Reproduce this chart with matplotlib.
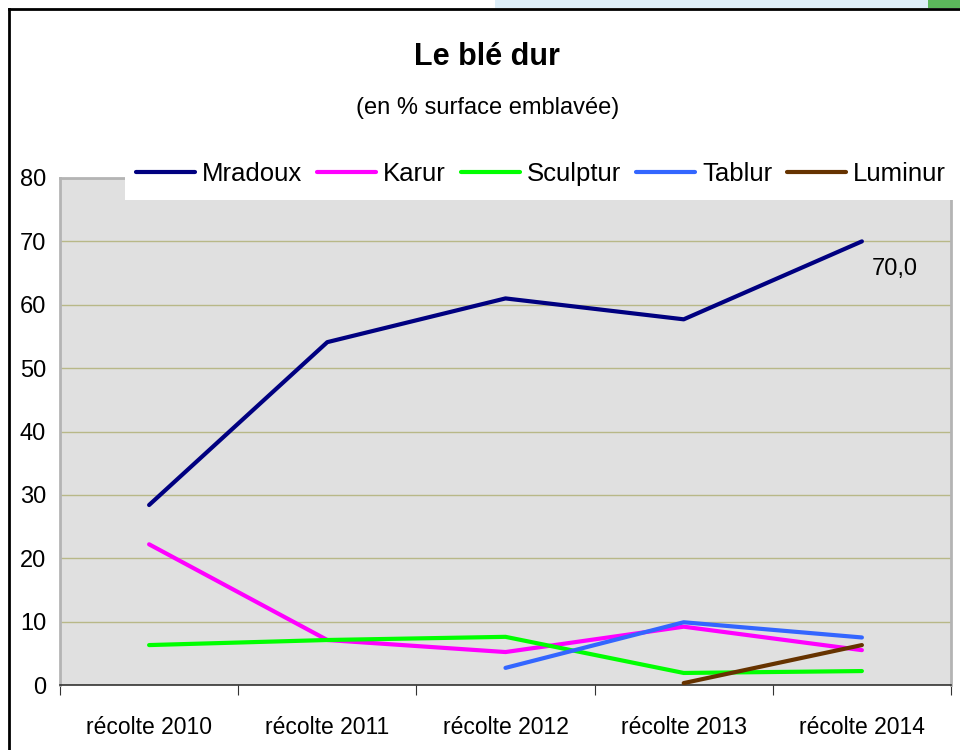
import matplotlib as mpl
mpl.use('Agg')
import matplotlib.pyplot as plt
from matplotlib.patches import Rectangle
from matplotlib.lines import Line2D

plt.rcParams['font.family'] = ['Liberation Sans', 'DejaVu Sans']

annees = ["récolte 2010", "récolte 2011", "récolte 2012", "récolte 2013", "récolte 2014"]

mradoux = [28.4, 54.1, 61.0, 57.7, 70.0]
karur = [22.2, 7.1, 5.2, 9.2, 5.5]
sculptur = [6.3, 7.1, 7.6, 1.9, 2.2]
tablur = [None, None, 2.7, 9.9, 7.5]
luminur = [None, None, None, 0.3, 6.3]

series = [
    ("Mradoux", mradoux, "#000080"),
    ("Karur", karur, "#ff00ff"),
    ("Sculptur", sculptur, "#00ff00"),
    ("Tablur", tablur, "#3366ff"),
    ("Luminur", luminur, "#663300"),
]

fig = plt.figure(figsize=(9.6, 7.5), dpi=100)

# bout de page au-dessus du cadre
fig.patches.append(Rectangle((495 / 960, 1 - 8 / 750), 433 / 960, 8 / 750,
                             transform=fig.transFigure, facecolor='#ddeef8', edgecolor='none'))
fig.patches.append(Rectangle((928 / 960, 1 - 8 / 750), 32 / 960, 8 / 750,
                             transform=fig.transFigure, facecolor='#5cb85c', edgecolor='none'))
# fond blanc de la légende, par-dessus le graphique
fig.patches.append(Rectangle((125 / 960, 1 - 200 / 750), 835 / 960, 45 / 750,
                             transform=fig.transFigure, facecolor='white', edgecolor='none',
                             zorder=2))
fig.lines.append(Line2D([9 / 960, 1], [1 - 9 / 750, 1 - 9 / 750], transform=fig.transFigure,
                        color='black', lw=2))
fig.lines.append(Line2D([9 / 960, 9 / 960], [0, 1 - 9 / 750], transform=fig.transFigure,
                        color='black', lw=2))

ax = fig.add_axes([60 / 960, 1 - 685 / 750, 891 / 960, 507 / 750])
ax.set_facecolor('#e0e0e0')

x = list(range(len(annees)))
for nom, vals, col in series:
    xs = [i for i, v in zip(x, vals) if v is not None]
    ys = [v for v in vals if v is not None]
    ax.plot(xs, ys, color=col, lw=3.0, label=nom, solid_capstyle='round', zorder=3)

ax.text(x[-1] + 0.055, mradoux[-1] - 4.3, f"{mradoux[-1]:.1f}".replace('.', ','),
        fontsize=17, ha='left', va='center')

ax.set_xlim(-0.5, 4.5)
ax.set_ylim(0, 80)
ax.set_yticks(range(0, 81, 10))
ax.yaxis.grid(True, color='#b8b888', lw=1)
ax.set_axisbelow(True)
ax.tick_params(axis='y', length=0, labelsize=17, pad=10)

ax.set_xticks([i - 0.5 for i in range(len(annees) + 1)])
ax.set_xticklabels([])
ax.set_xticks(x, minor=True)
ax.set_xticklabels(annees, minor=True)
ax.tick_params(axis='x', which='major', length=7, direction='out', color='#333333')
ax.tick_params(axis='x', which='minor', length=0, labelsize=16.5, pad=22)

for s in ['left', 'top', 'right']:
    ax.spines[s].set_color('#b4b4b4')
    ax.spines[s].set_linewidth(2)
ax.spines['bottom'].set_color('#333333')
ax.spines['bottom'].set_linewidth(1.2)

leg = fig.legend(loc='center left', bbox_to_anchor=(136 / 960, 1 - 174 / 750), ncol=5,
                 fontsize=18.5, frameon=False, handlelength=2.3,
                 handletextpad=0.27, columnspacing=0.58, borderpad=0, borderaxespad=0)
leg.set_zorder(3)

fig.text(487 / 960, 1 - 57 / 750, "Le blé dur", fontsize=22, fontweight='bold',
         ha='center', va='center')
fig.text(488 / 960, 1 - 108 / 750, "(en % surface emblavée)", fontsize=17,
         ha='center', va='center')

fig.savefig('out.png', dpi=100)
